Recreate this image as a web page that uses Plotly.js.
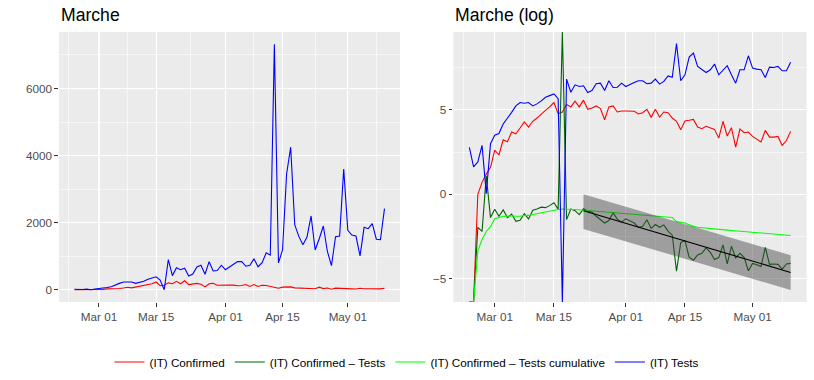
<!DOCTYPE html>
<html>
<head>
<meta charset="utf-8">
<script src="https://cdn.plot.ly/plotly-3.0.1.min.js"></script>
<style>
  html, body { margin: 0; padding: 0; background: #fff; }
  #chart { width: 814px; height: 380px; }
</style>
</head>
<body>
<div id="chart"></div>
<script>
// Days from 2020-02-24 to 2020-05-10
const dates = [
  '2020-02-24', '2020-02-25', '2020-02-26', '2020-02-27', '2020-02-28', '2020-02-29',
  '2020-03-01', '2020-03-02', '2020-03-03', '2020-03-04', '2020-03-05', '2020-03-06',
  '2020-03-07', '2020-03-08', '2020-03-09', '2020-03-10', '2020-03-11', '2020-03-12',
  '2020-03-13', '2020-03-14', '2020-03-15', '2020-03-16', '2020-03-17', '2020-03-18',
  '2020-03-19', '2020-03-20', '2020-03-21', '2020-03-22', '2020-03-23', '2020-03-24',
  '2020-03-25', '2020-03-26', '2020-03-27', '2020-03-28', '2020-03-29', '2020-03-30',
  '2020-03-31', '2020-04-01', '2020-04-02', '2020-04-03', '2020-04-04', '2020-04-05',
  '2020-04-06', '2020-04-07', '2020-04-08', '2020-04-09', '2020-04-10', '2020-04-11',
  '2020-04-12', '2020-04-13', '2020-04-14', '2020-04-15', '2020-04-16', '2020-04-17',
  '2020-04-18', '2020-04-19', '2020-04-20', '2020-04-21', '2020-04-22', '2020-04-23',
  '2020-04-24', '2020-04-25', '2020-04-26', '2020-04-27', '2020-04-28', '2020-04-29',
  '2020-04-30', '2020-05-01', '2020-05-02', '2020-05-03', '2020-05-04', '2020-05-05',
  '2020-05-06', '2020-05-07', '2020-05-08', '2020-05-09', '2020-05-10'
];

// Left panel: daily counts
const confirmedDaily = [
  0, 0, 1, 2, 3, 5, 13, 10, 25, 22, 40, 36, 51, 73, 54, 76, 92, 119, 146, 178,
  230, 119, 132, 204, 178, 250, 178, 265, 154, 167, 189, 161, 83, 178, 189, 132,
  140, 140, 137, 137, 117, 126, 154, 96, 154, 98, 132, 126, 92, 76, 46, 77, 81,
  85, 54, 49, 56, 52, 47, 28, 76, 32, 52, 16, 48, 38, 40, 31, 26, 22, 44, 30, 30,
  31, 18, 24, 42
];
const testsDaily = [
  16, 5, 7, 18, 1, 20, 33, 37, 65, 90, 129, 189, 231, 221, 230, 189, 213, 255,
  314, 348, 384, 290, 0, 900, 420, 657, 596, 640, 410, 468, 680, 728, 460, 836,
  560, 572, 730, 596, 686, 757, 837, 837, 700, 728, 920, 686, 804, 1100, 1030,
  7320, 800, 1185, 3450, 4250, 1930, 1590, 1340, 1570, 2200, 1185, 1520, 1900,
  1140, 720, 1580, 1600, 3600, 1770, 1630, 1600, 1010, 1860, 1820, 1970, 1505,
  1490, 2420
];

// Right panel: log values (-Infinity / Infinity sit on the panel edge)
const logConfirmed = [
  -Infinity, -Infinity, 0.0, 0.71, 1.21, 1.6, 2.62, 2.33, 3.23, 3.12, 3.69, 3.59,
  3.93, 4.29, 3.99, 4.33, 4.52, 4.78, 4.98, 5.18, 5.44, 4.78, 4.88, 5.32, 5.18,
  5.52, 5.18, 5.58, 5.04, 5.12, 5.24, 5.08, 4.42, 5.18, 5.24, 4.88, 4.94, 4.94,
  4.92, 4.92, 4.76, 4.84, 5.04, 4.56, 5.04, 4.58, 4.88, 4.84, 4.52, 4.33, 3.83,
  4.35, 4.39, 4.44, 3.99, 3.89, 4.03, 3.95, 3.85, 3.33, 4.33, 3.45, 3.95, 2.8,
  3.87, 3.65, 3.69, 3.43, 3.25, 3.1, 3.79, 3.39, 3.39, 3.43, 2.9, 3.19, 3.73
];
const logTests = [
  2.78, 1.63, 1.92, 2.9, 0.04, 3.0, 3.5, 3.6, 4.17, 4.5, 4.86, 5.24, 5.44, 5.4,
  5.44, 5.24, 5.36, 5.54, 5.75, 5.85, 5.95, 5.67, -Infinity, 6.83, 6.05, 6.49,
  6.39, 6.43, 6.03, 6.15, 6.55, 6.59, 6.15, 6.73, 6.33, 6.35, 6.59, 6.39, 6.53,
  6.63, 6.73, 6.73, 6.55, 6.59, 6.83, 6.53, 6.69, 7.02, 6.94, 8.93, 6.73, 7.08,
  8.13, 8.37, 7.58, 7.38, 7.22, 7.38, 7.72, 7.08, 7.34, 7.62, 7.08, 6.59, 7.38,
  7.38, 8.21, 7.48, 7.42, 7.38, 6.92, 7.54, 7.52, 7.58, 7.32, 7.32, 7.82
];
const logConfirmedTests = [
  -Infinity, -Infinity, -1.96, -2.2, 1.1, -1.38, -0.88, -1.3, -0.92, -1.38, -1.17,
  -1.6, -1.54, -1.15, -1.46, -0.94, -0.87, -0.76, -0.79, -0.67, -0.5, -0.88,
  Infinity, -1.5, -0.87, -0.97, -1.2, -0.86, -1.0, -1.05, -1.3, -1.5, -1.7, -1.55,
  -1.1, -1.47, -1.65, -1.45, -1.6, -1.7, -1.96, -1.89, -1.51, -2.02, -1.79, -1.95,
  -1.81, -2.18, -2.42, -4.56, -2.86, -2.74, -3.73, -3.9, -3.59, -3.5, -3.17,
  -3.44, -3.86, -3.75, -3.0, -4.12, -3.08, -3.77, -3.5, -3.73, -4.53, -4.1,
  -4.17, -4.27, -3.14, -4.15, -4.13, -4.15, -4.43, -4.13, -4.09
];
const logConfirmedTestsCum = [
  -Infinity, -Infinity, -3.35, -2.68, -2.2, -1.92, -1.45, -1.37, -1.3, -1.3, -1.27,
  -1.3, -1.3, -1.25, -1.25, -1.2, -1.15, -1.08, -1.03, -0.98, -0.92, -0.9, -0.87,
  -0.9, -0.9, -0.9, -0.92, -0.93, -0.95, -0.97, -0.99, -1.01, -1.03, -1.05, -1.08,
  -1.1, -1.12, -1.14, -1.16, -1.18, -1.2, -1.22, -1.24, -1.26, -1.28, -1.3, -1.32,
  -1.34, -1.37, -1.62, -1.66, -1.7, -1.8, -1.9, -1.95, -1.98, -2.0, -2.02, -2.05,
  -2.07, -2.09, -2.12, -2.14, -2.16, -2.18, -2.2, -2.25, -2.27, -2.29, -2.31,
  -2.32, -2.34, -2.36, -2.38, -2.4, -2.42, -2.44
];

// Linear fit of Confirmed - Tests from Mar 22 with its band
const fitDates = ['2020-03-22', '2020-05-10'];
const fitValue = [-0.97, -4.63];
const fitUpper = [0.0, -3.61];
const fitLower = [-2.05, -5.67];

const xRange = ['2020-02-20 04:48', '2020-05-13 19:12'];
const linRange = [-366, 7686];
const logRange = [-6.38, 9.62];

const edge = v => v === -Infinity ? logRange[0] : (v === Infinity ? logRange[1] : v);

const font = 'Liberation Sans, Arial, sans-serif';
const lineW = 1.1;

function line(y, color, name, xa, ya, legend) {
  return {
    x: dates, y: y, type: 'scatter', mode: 'lines', name: name,
    line: { color: color, width: lineW },
    xaxis: xa, yaxis: ya, showlegend: legend, hoverinfo: 'skip'
  };
}

const traces = [
  line(confirmedDaily, '#FF0000', '(IT) Confirmed', 'x', 'y', false),
  line(testsDaily, '#0000FF', '(IT) Tests', 'x', 'y', false),
  line(logConfirmed.map(edge), '#FF0000', '(IT) Confirmed', 'x2', 'y2', true),
  line(logConfirmedTests.map(edge), '#006400', '(IT) Confirmed – Tests', 'x2', 'y2', true),
  line(logConfirmedTestsCum.map(edge), '#00FF00', '(IT) Confirmed – Tests cumulative', 'x2', 'y2', true),
  line(logTests.map(edge), '#0000FF', '(IT) Tests', 'x2', 'y2', true),
  {
    x: fitDates.concat(fitDates.slice().reverse()),
    y: fitUpper.concat(fitLower.slice().reverse()),
    type: 'scatter', mode: 'lines', fill: 'toself',
    fillcolor: 'rgba(64,64,64,0.45)', line: { width: 0 },
    xaxis: 'x2', yaxis: 'y2', showlegend: false, hoverinfo: 'skip'
  },
  {
    x: fitDates, y: fitValue, type: 'scatter', mode: 'lines',
    line: { color: '#000000', width: lineW },
    xaxis: 'x2', yaxis: 'y2', showlegend: false, hoverinfo: 'skip'
  }
];

const majorDates = ['2020-03-01', '2020-03-15', '2020-04-01', '2020-04-15', '2020-05-01'];
const minorDates = ['2020-02-22 12:00', '2020-03-08', '2020-03-23 12:00', '2020-04-08', '2020-04-23', '2020-05-08'];

function dateAxis(domain) {
  return {
    domain: domain, type: 'date', range: xRange, anchor: domain[0] < 0.5 ? 'y' : 'y2',
    tickvals: majorDates, tickformat: '%b %d',
    showgrid: true, gridcolor: '#FFFFFF', gridwidth: 1.07, zeroline: false, showline: false,
    ticks: 'outside', ticklen: 3.7, tickwidth: 1, tickcolor: '#333333',
    tickfont: { family: font, size: 11.7, color: '#4D4D4D' },
    minor: { tickvals: minorDates, showgrid: true, gridcolor: '#FFFFFF', gridwidth: 0.55, ticks: '' }
  };
}

function valueAxis(range, major, minor, anchor) {
  return {
    domain: [0.2053, 0.9158], range: range, anchor: anchor,
    tickvals: major, tickformat: 'd',
    showgrid: true, gridcolor: '#FFFFFF', gridwidth: 1.07, zeroline: false, showline: false,
    ticks: 'outside', ticklen: 3.7, tickwidth: 1, tickcolor: '#333333',
    tickfont: { family: font, size: 11.7, color: '#4D4D4D' },
    minor: { tickvals: minor, showgrid: true, gridcolor: '#FFFFFF', gridwidth: 0.55, ticks: '' }
  };
}

const layout = {
  width: 814, height: 380,
  margin: { l: 0, r: 0, t: 0, b: 0 },
  paper_bgcolor: '#FFFFFF', plot_bgcolor: '#EBEBEB',
  font: { family: font, color: '#000000' },
  xaxis: dateAxis([59 / 814, 400 / 814]),
  yaxis: valueAxis(linRange, [0, 2000, 4000, 6000], [1000, 3000, 5000, 7000], 'x'),
  xaxis2: dateAxis([453.3 / 814, 806.7 / 814]),
  yaxis2: valueAxis(logRange, [-5, 0, 5], [-2.5, 2.5, 7.5], 'x2'),
  showlegend: true,
  legend: {
    orientation: 'h', x: 0.5, xanchor: 'center', y: 18 / 380, yanchor: 'middle',
    font: { family: font, size: 11.7, color: '#000000' },
    bgcolor: 'rgba(0,0,0,0)', itemwidth: 30, traceorder: 'normal'
  },
  annotations: [
    { text: 'Marche', xref: 'paper', yref: 'paper', x: 59 / 814, y: 1 - 15 / 380,
      xanchor: 'left', yanchor: 'middle', showarrow: false,
      font: { family: font, size: 17.6, color: '#000000' } },
    { text: 'Marche (log)', xref: 'paper', yref: 'paper', x: 453.3 / 814, y: 1 - 15 / 380,
      xanchor: 'left', yanchor: 'middle', showarrow: false,
      font: { family: font, size: 17.6, color: '#000000' } }
  ]
};

Plotly.newPlot('chart', traces, layout, { staticPlot: true, displayModeBar: false });
</script>
</body>
</html>
